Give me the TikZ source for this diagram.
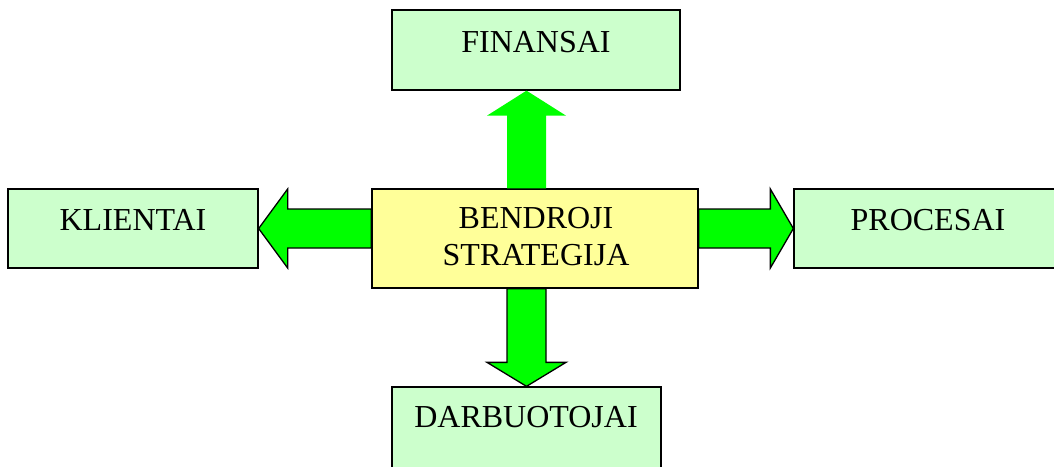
\documentclass[tikz,border=0pt]{standalone}
\usepackage{fontspec}
\setmainfont{Liberation Serif}
\usetikzlibrary{calc}
\definecolor{boxgreen}{HTML}{CCFFCC}
\definecolor{boxyellow}{HTML}{FFFF99}
\definecolor{arrowgreen}{HTML}{00FF00}
\tikzset{
  panel/.style={draw=black, line width=1.3pt, rectangle, inner sep=0pt},
  areabox/.style={panel, fill=boxgreen},
  corebox/.style={panel, fill=boxyellow},
  lbl/.style={inner sep=0pt, anchor=base, font=\fontsize{32}{37}\selectfont},
  fatarrow/.style={fill=arrowgreen, draw=black, line width=1.3pt, line join=miter},
  fatarrowplain/.style={fill=arrowgreen}
}
\begin{document}
\begin{tikzpicture}[x=1pt,y=-1pt]
  \useasboundingbox (0,0) rectangle (1054,466);
  \clip (0,0) rectangle (1054,466);
  \fill[white] (0,0) rectangle (1054,466);

  % boxes
  \node[areabox, minimum width=288, minimum height=80] (fin) at (536,50) {};
  \node[areabox, minimum width=250, minimum height=79] (kli) at (133,228.5) {};
  \node[areabox, minimum width=290, minimum height=79] (pro) at (939,228.5) {};
  \node[areabox, minimum width=269, minimum height=90] (dar) at (526.5,432) {};
  \node[corebox, minimum width=326, minimum height=99] (cen) at (535,238.5) {};

  % vertical arrow axis
  \coordinate (axis) at (526.5,238.5);

  % up arrow to FINANSAI
  \fill[fatarrowplain]
    ($(axis |- fin.south)$) --
    ($(axis |- fin.south)+(39.5,25)$) --
    ($(axis |- fin.south)+(19.5,25)$) --
    ($(axis |- cen.north)+(19.5,0)$) --
    ($(axis |- cen.north)+(-19.5,0)$) --
    ($(axis |- fin.south)+(-19.5,25)$) --
    ($(axis |- fin.south)+(-39.5,25)$) -- cycle;

  % down arrow to DARBUOTOJAI
  \draw[fatarrow]
    ($(axis |- dar.north)$) --
    ($(axis |- dar.north)+(39.5,-24)$) --
    ($(axis |- dar.north)+(19.5,-24)$) --
    ($(axis |- cen.south)+(19.5,0)$) --
    ($(axis |- cen.south)+(-19.5,0)$) --
    ($(axis |- dar.north)+(-19.5,-24)$) --
    ($(axis |- dar.north)+(-39.5,-24)$) -- cycle;

  % left arrow to KLIENTAI
  \draw[fatarrow]
    (kli.east) --
    ($(kli.east)+(29,-39.5)$) --
    ($(kli.east)+(29,-19.5)$) --
    ($(cen.west |- kli.east)+(0,-19.5)$) --
    ($(cen.west |- kli.east)+(0,19.5)$) --
    ($(kli.east)+(29,19.5)$) --
    ($(kli.east)+(29,39.5)$) -- cycle;

  % right arrow to PROCESAI
  \draw[fatarrow]
    (pro.west) --
    ($(pro.west)+(-23,-39.5)$) --
    ($(pro.west)+(-23,-19.5)$) --
    ($(cen.east |- pro.west)+(0,-19.5)$) --
    ($(cen.east |- pro.west)+(0,19.5)$) --
    ($(pro.west)+(-23,19.5)$) --
    ($(pro.west)+(-23,39.5)$) -- cycle;

  % labels
  \node[lbl] (finT) at (536,52) {FINANSAI};
  \node[lbl] (kliT) at (133,230) {KLIENTAI};
  \node[lbl] (proT) at (928,230) {PROCESAI};
  \node[lbl] (darT) at (526,427) {DARBUOTOJAI};
  \node[lbl] (cenT1) at (536,228) {BENDROJI};
  \node[lbl] (cenT2) at (536,265) {STRATEGIJA};
\end{tikzpicture}
\end{document}
